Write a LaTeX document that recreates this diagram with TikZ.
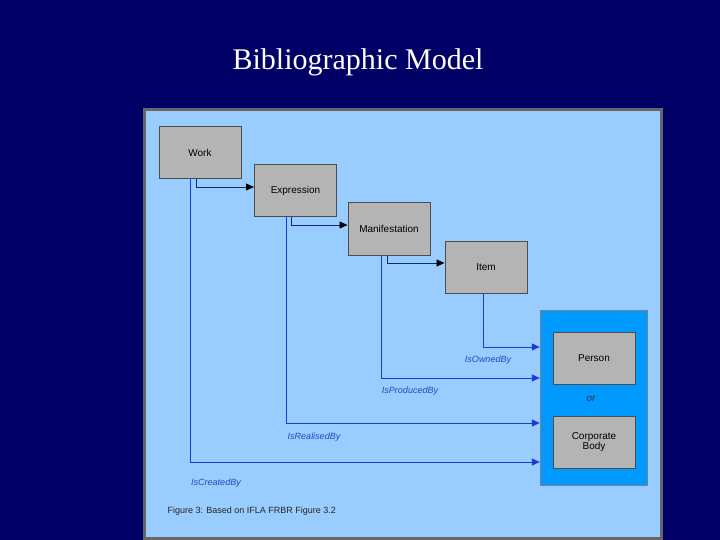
\documentclass[tikz,border=0pt]{standalone}
\usepackage{fontspec}
\setmainfont{Liberation Serif}
\newfontfamily\figfont{Liberation Sans}
\usetikzlibrary{arrows.meta}
\definecolor{navy}{RGB}{0,0,102}
\definecolor{panel}{RGB}{153,204,255}
\definecolor{grp}{RGB}{0,153,255}
\definecolor{boxg}{RGB}{180,180,180}
\definecolor{lnk}{RGB}{30,60,210}
\definecolor{lbl}{RGB}{40,70,190}
\begin{document}
\begin{tikzpicture}[x=1pt,y=-1pt,
  ent/.style={draw=black!70,line width=1pt,fill=boxg,minimum width=82pt,minimum height=52pt,font=\figfont\fontsize{10}{12}\selectfont,align=center},
  seq/.style={draw=lnk!60!black,line width=0.8pt,-{Triangle[length=8pt,width=7pt]},
    arrows={-{Triangle[length=8pt,width=7pt,black]}}},
  rel/.style={draw=lnk,line width=1pt,-{Triangle[length=8pt,width=7pt]}},
  lab/.style={text=lbl,font=\figfont\itshape\fontsize{9}{11}\selectfont}]
\useasboundingbox (0,0) rectangle (720,540);
\fill[navy] (0,0) rectangle (720,540);
\node[text=white,font=\fontsize{30}{36}\selectfont] (title) at (358,62) {Bibliographic Model};
\fill[black!60] (143,108) rectangle (663,540);
\fill[panel] (146,111) rectangle (660,537);
\node[draw=black!50,fill=grp,minimum width=107pt,minimum height=175pt,inner sep=0] (grp) at (593.5,397.5) {};
\node[ent] (work) at (200,153) {Work};
\node[ent] (expr) at (295.5,191) {Expression};
\node[ent] (mani) at (389,229) {Manifestation};
\node[ent] (item) at (486,267.5) {Item};
\node[ent] (person) at (594,358.5) {Person};
\node[ent] (corp) at (594,442.5) {Corporate\\[-2pt]Body};
\node[text=black!80,font=\figfont\itshape\fontsize{10}{12}\selectfont] (or) at (591,399) {or};
\draw[seq] (work.south -| 196,0) |- (expr.west |- 0,187);
\draw[seq] (expr.south -| 291,0) |- (mani.west |- 0,225);
\draw[seq] (mani.south -| 387,0) |- (item.west |- 0,263);
\draw[rel] (item.south -| 483,0) |- (grp.west |- 0,347);
\draw[rel] (mani.south -| 381,0) |- (grp.west |- 0,378);
\draw[rel] (expr.south -| 286,0) |- (grp.west |- 0,423);
\draw[rel] (work.south -| 190,0) |- (grp.west |- 0,462);
\node[lab] (l1) at (488,360) {IsOwnedBy};
\node[lab] (l2) at (410,391) {IsProducedBy};
\node[lab] (l3) at (314,437) {IsRealisedBy};
\node[lab] (l4) at (216,483) {IsCreatedBy};
\node[anchor=west,text=black!85,font=\figfont\fontsize{9}{11}\selectfont] (cap) at (164,511) {Figure 3: Based on IFLA FRBR Figure 3.2};
\end{tikzpicture}
\end{document}
